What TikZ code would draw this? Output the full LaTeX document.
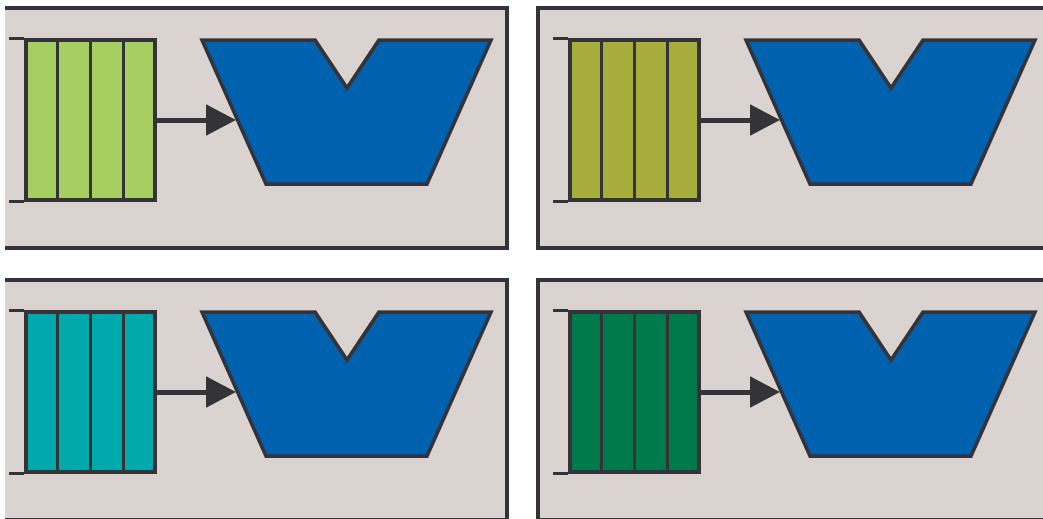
\documentclass[tikz,border=0pt]{standalone}
\usetikzlibrary{arrows.meta,calc}
\definecolor{frame}{RGB}{51,51,56}
\definecolor{paper}{RGB}{218,211,208}
\definecolor{unitblue}{RGB}{0,98,175}
\definecolor{lime}{RGB}{165,207,97}
\definecolor{olive}{RGB}{167,173,58}
\definecolor{teal}{RGB}{0,169,172}
\definecolor{pine}{RGB}{0,122,74}
\tikzset{
    % Background box of one module
    panel/.style={
        draw=frame,
        fill=paper,
        line width=0.7mm,
    },
    % Queue of four slots
    queue/.style={
        draw=frame,
        line width=0.7mm,
        rectangle,
        minimum width=2.58cm,
        minimum height=3.2cm,
        inner sep=0pt,
    },
    % Slot divider and rails
    slot/.style={
        frame,
        line width=0.7mm,
    },
    % Processing unit
    unit/.style={
        draw=frame,
        fill=unitblue,
        line width=0.7mm,
        line join=miter,
    },
    % Queue feeding the unit
    feed/.style={
        frame,
        line width=1mm,
        -{Triangle[length=6mm,width=6mm]},
    },
}

\begin{document}
\begin{tikzpicture}[x=0.02cm, y=-0.02cm]
\useasboundingbox (0,0) rectangle (1043,518);
\clip (5,0) rectangle (1043,518);
%MODULE_BEGIN%
    % Q1
    \begin{scope}[shift={(0,0)}]
        \draw[panel] (-6,8) rectangle (507,248);
        \node[queue, fill=lime] (Q1) at (90.5,120) {};
        \foreach \k in {1,2,3}
            \draw[slot] ($(Q1.north west)!\k/4!(Q1.north east)$) -- ($(Q1.south west)!\k/4!(Q1.south east)$);
        \draw[slot] (Q1.north west) -- ++(-15,0);
        \draw[slot] (Q1.south west) -- ++(-15,0);
        \draw[unit] (202,40) -- (315,40) -- (347,88) -- (379,40) -- (491,40)
            -- (427,184) -- (266,184) -- cycle;
        \coordinate (T1) at (236,120);
        \draw[feed] (Q1.east) -- (T1);
    \end{scope}
    % Q2
    \begin{scope}[shift={(544,0)}]
        \draw[panel] (-6,8) rectangle (507,248);
        \node[queue, fill=olive] (Q2) at (90.5,120) {};
        \foreach \k in {1,2,3}
            \draw[slot] ($(Q2.north west)!\k/4!(Q2.north east)$) -- ($(Q2.south west)!\k/4!(Q2.south east)$);
        \draw[slot] (Q2.north west) -- ++(-15,0);
        \draw[slot] (Q2.south west) -- ++(-15,0);
        \draw[unit] (202,40) -- (315,40) -- (347,88) -- (379,40) -- (491,40)
            -- (427,184) -- (266,184) -- cycle;
        \coordinate (T2) at (236,120);
        \draw[feed] (Q2.east) -- (T2);
    \end{scope}
    % Q3
    \begin{scope}[shift={(0,272)}]
        \draw[panel] (-6,8) rectangle (507,248);
        \node[queue, fill=teal] (Q3) at (90.5,120) {};
        \foreach \k in {1,2,3}
            \draw[slot] ($(Q3.north west)!\k/4!(Q3.north east)$) -- ($(Q3.south west)!\k/4!(Q3.south east)$);
        \draw[slot] (Q3.north west) -- ++(-15,0);
        \draw[slot] (Q3.south west) -- ++(-15,0);
        \draw[unit] (202,40) -- (315,40) -- (347,88) -- (379,40) -- (491,40)
            -- (427,184) -- (266,184) -- cycle;
        \coordinate (T3) at (236,120);
        \draw[feed] (Q3.east) -- (T3);
    \end{scope}
    % Q4
    \begin{scope}[shift={(544,272)}]
        \draw[panel] (-6,8) rectangle (507,248);
        \node[queue, fill=pine] (Q4) at (90.5,120) {};
        \foreach \k in {1,2,3}
            \draw[slot] ($(Q4.north west)!\k/4!(Q4.north east)$) -- ($(Q4.south west)!\k/4!(Q4.south east)$);
        \draw[slot] (Q4.north west) -- ++(-15,0);
        \draw[slot] (Q4.south west) -- ++(-15,0);
        \draw[unit] (202,40) -- (315,40) -- (347,88) -- (379,40) -- (491,40)
            -- (427,184) -- (266,184) -- cycle;
        \coordinate (T4) at (236,120);
        \draw[feed] (Q4.east) -- (T4);
    \end{scope}
%MODULE_END%
\end{tikzpicture}
\end{document}
